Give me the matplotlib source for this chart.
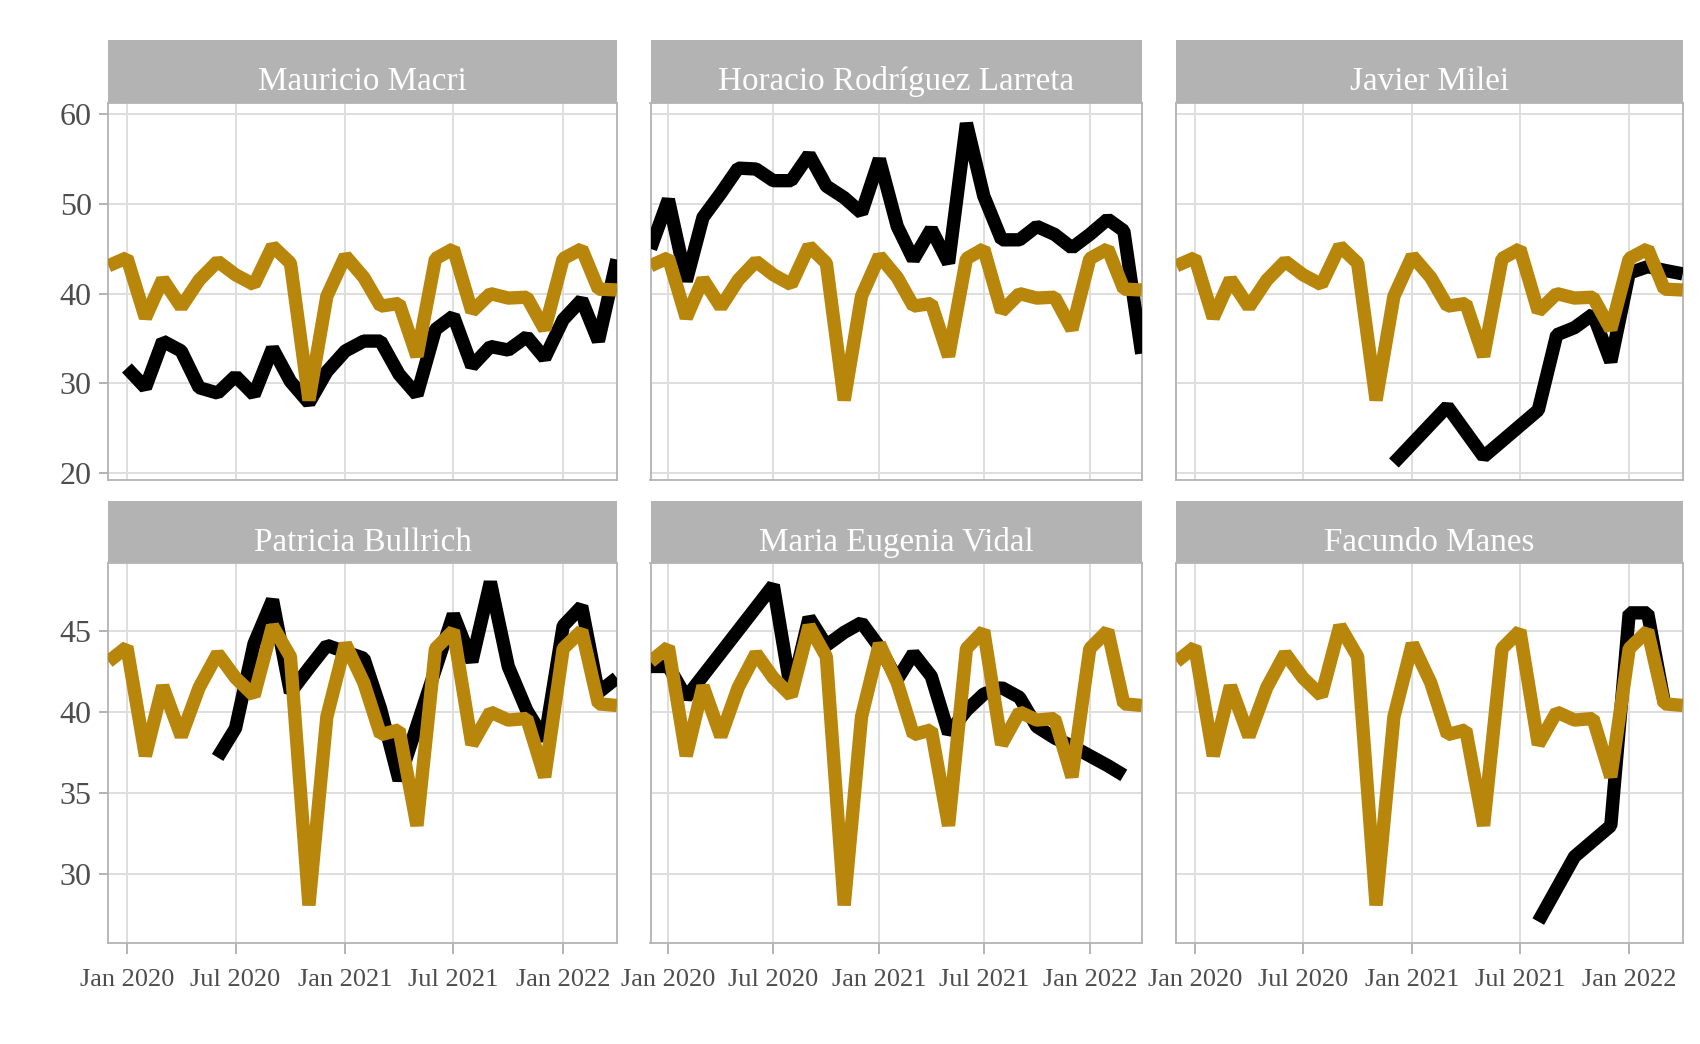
import matplotlib
matplotlib.use("Agg")
import matplotlib.pyplot as plt
import matplotlib.dates as mdates
import numpy as np
import pandas as pd
from matplotlib.patches import Rectangle

plt.rcParams['font.family'] = ['Liberation Serif', 'DejaVu Serif']

# ---------------- data ----------------
months = ["2019-12",
          "2020-01", "2020-02", "2020-03", "2020-04", "2020-05", "2020-06",
          "2020-07", "2020-08", "2020-09", "2020-10", "2020-11", "2020-12",
          "2021-01", "2021-02", "2021-03", "2021-04", "2021-05", "2021-06",
          "2021-07", "2021-08", "2021-09", "2021-10", "2021-11", "2021-12",
          "2022-01", "2022-02", "2022-03", "2022-04"]

promedio = [43.1,
            44.0, 37.3, 41.6, 38.5, 41.5, 43.6, 42.1, 41.0, 45.3, 43.4, 28.1, 39.7,
            44.2, 41.8, 38.6, 38.9, 33.0, 43.9, 45.0, 38.0, 40.0, 39.5, 39.6, 36.0,
            43.9, 45.0, 40.5, 40.4]

macri = [None,
         31.7, 29.5, 34.7, 33.6, 29.5, 28.9, 30.8, 28.7, 33.9, 30.2, 27.8, 31.3,
         33.6, 34.7, 34.7, 31.0, 28.7, 36.0, 37.5, 31.9, 34.1, 33.7, 35.2, 32.8,
         37.1, 39.3, 34.7, 43.8]

larreta = [45.0,
           50.5, 41.4, 48.5, 51.2, 54.0, 53.9, 52.6, 52.6, 55.5, 52.0, 50.7, 49.0,
           55.0, 47.5, 43.8, 47.2, 43.4, 59.0, 50.9, 46.0, 46.0, 47.5, 46.6, 45.1,
           46.6, 48.3, 47.0, 33.3]

milei = [None,
         None, None, None, None, None, None, None, None, None, None, None, 21.1,
         None, None, 27.4, None, 21.8, None, None, 27.0, 35.4, 36.2, 37.7, 32.4,
         42.3, 43.0, 42.6, 42.2]

bullrich = [None,
            None, None, None, None, None, 37.2, 39.0, 44.2, 46.9, 41.2, 42.7, 44.1,
            43.7, 43.3, 40.2, 35.8, None, None, 46.0, 43.1, 48.0, 42.8, 40.1, 38.3,
            45.3, 46.5, 41.2, 42.1]

vidal = [42.8,
         42.8, 40.9, None, None, None, None, 47.8, 41.2, 45.8, 44.1, 44.9, 45.5,
         44.0, 42.0, 43.6, 42.2, 38.7, 40.1, 41.1, 41.5, 40.9, 39.1, 38.4, 37.9,
         37.3, 36.7, 36.1, None]

manes = [None,
         None, None, None, None, None, None, None, None, None, None, None, None,
         None, None, None, None, None, None, None, 27.1, None, 31.1, None, 33.0,
         46.1, 46.1, 40.6, None]

panel_names = ["Mauricio Macri", "Horacio Rodríguez Larreta", "Javier Milei",
               "Patricia Bullrich", "Maria Eugenia Vidal", "Facundo Manes"]
panel_series = [macri, larreta, milei, bullrich, vidal, manes]

x_tick_dates = ["2020-01-01", "2020-07-01", "2021-01-01", "2021-07-01", "2022-01-01"]
x_tick_labels = ["Jan 2020", "Jul 2020", "Jan 2021", "Jul 2021", "Jan 2022"]
y_ticks_top = [20, 30, 40, 50, 60]
y_ticks_bottom = [30, 35, 40, 45]

# ---------------- style / layout ----------------
GOLD = "#B8860B"
W, H = 1700, 1044
col_x = [(108.4, 616.9), (650.5, 1141.7), (1176.4, 1682.7)]
row_y = [dict(strip=(40.0, 102.7), panel=(102.7, 480.0), ylim=(19.2, 61.3), ticks=y_ticks_top),
         dict(strip=(501.0, 563.3), panel=(563.3, 942.7), ylim=(25.8, 49.15), ticks=y_ticks_bottom)]

dates = pd.to_datetime([m + "-01" for m in months])
xlim = (mdates.date2num(pd.Timestamp("2019-12-01")), mdates.date2num(pd.Timestamp("2022-04-01")))
xt = [mdates.date2num(pd.Timestamp(d)) for d in x_tick_dates]

fig = plt.figure(figsize=(17, 10.44), dpi=100)

LW = 9.6
for i, (name, series) in enumerate(zip(panel_names, panel_series)):
    r, c = divmod(i, 3)
    x0, x1 = col_x[c]
    rowinfo = row_y[r]
    py0, py1 = rowinfo["panel"]
    ax = fig.add_axes([x0 / W, 1 - py1 / H, (x1 - x0) / W, (py1 - py0) / H])
    ax.set_axisbelow(True)

    # black candidate line (connect available points)
    s = pd.Series(series, index=dates, dtype=float).dropna()
    ax.plot(mdates.date2num(s.index), s.values, color="black", lw=LW,
            solid_joinstyle="bevel", solid_capstyle="butt", zorder=3)
    # gold average line on top
    ax.plot(mdates.date2num(dates), promedio, color=GOLD, lw=LW,
            solid_joinstyle="bevel", solid_capstyle="butt", zorder=4)

    ax.set_xlim(*xlim)
    ax.set_ylim(*rowinfo["ylim"])
    ax.set_xticks(xt)
    ax.set_yticks(rowinfo["ticks"])
    ax.grid(True, color="#DEDEDE", lw=1.4)
    for sp in ax.spines.values():
        sp.set_color("#B3B3B3")
        sp.set_linewidth(1.3)

    if r == 1:
        ax.set_xticklabels(x_tick_labels)
        ax.tick_params(axis="x", length=7.6, width=1.4, color="#B3B3B3",
                       labelsize=19, labelcolor="#4D4D4D", pad=11.2)
    else:
        ax.tick_params(axis="x", length=0, labelbottom=False)
    if c == 0:
        ax.set_yticklabels([str(t) for t in rowinfo["ticks"]])
        ax.tick_params(axis="y", length=6.8, width=1.4, color="#B3B3B3",
                       labelsize=23, labelcolor="#4D4D4D", pad=5.2)
    else:
        ax.tick_params(axis="y", length=0, labelleft=False)

    # strip
    sy0, sy1 = rowinfo["strip"]
    fig.add_artist(Rectangle((x0 / W, 1 - sy1 / H), (x1 - x0) / W, (sy1 - sy0) / H,
                             transform=fig.transFigure, facecolor="#B3B3B3",
                             edgecolor="none"))
    fig.text((x0 + x1) / 2 / W, 1 - (sy0 + 49.8) / H, name, color="white",
             fontsize=23.9, ha="center", va="baseline")

fig.savefig("out.png", dpi=100, facecolor="white")
